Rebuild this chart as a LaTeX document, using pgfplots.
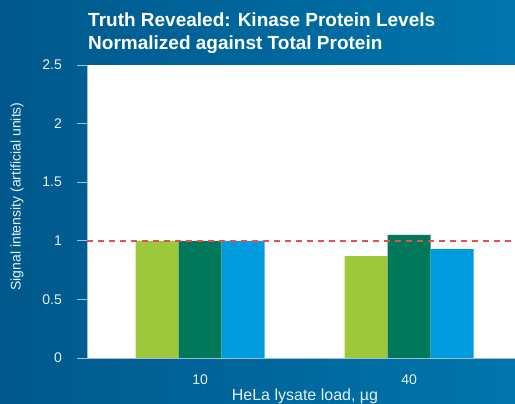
\documentclass[border=0pt]{standalone}
\usepackage{fontspec}
\setmainfont{Liberation Sans}
\usepackage{pgfplots}
\pgfplotsset{compat=1.18}
\definecolor{bgL}{RGB}{0,88,140}
\definecolor{bgR}{RGB}{0,117,172}
\definecolor{axcol}{RGB}{160,192,216}
\definecolor{cgreen}{RGB}{157,200,60}
\definecolor{cdark}{RGB}{0,120,90}
\definecolor{cblue}{RGB}{0,156,222}
\definecolor{cred}{RGB}{232,80,80}
\definecolor{txt}{RGB}{232,240,246}
\begin{document}
\begin{tikzpicture}
\shade[left color=bgL,right color=bgR] (0pt,0pt) rectangle (515pt,404pt);
\useasboundingbox (0pt,0pt) rectangle (515pt,404pt);
\node[anchor=north west, align=left, font=\fontsize{19}{23}\selectfont\bfseries, text=white, inner sep=0pt] at (88pt,391pt) {Truth Revealed: Kinase Protein Levels\\Normalized against Total Protein};
\begin{axis}[
  at={(87pt,46pt)}, anchor=south west,
  scale only axis, width=428pt, height=293pt,
  xmin=-0.541, xmax=1.507, ymin=0, ymax=2.5,
  axis background/.style={fill=white},
  axis x line*=bottom, axis y line*=left,
  axis line style={draw=axcol, line width=0.8pt, -},
  xtick={0,1}, xticklabels={10,40},
  ytick={0,0.5,1,1.5,2,2.5},
  yticklabels={0,0.5,1,1.5,2,2.5},
  x tick style={draw=none},
  y tick style={draw=axcol, line width=0.8pt},
  tick align=outside, major tick length=10pt,
  ticklabel style={font=\fontsize{14}{16}\selectfont, text=txt},
  yticklabel style={anchor=east, inner sep=0pt, xshift=-15pt},
  xticklabel style={anchor=center, yshift=-12pt},
  xlabel={HeLa lysate load, µg},
  ylabel={Signal intensity (artificial units)},
  label style={text=txt},
  xlabel style={font=\fontsize{16}{18}\selectfont, at={(axis description cs:0.5,0)}, anchor=center, yshift=-38pt, xshift=4pt},
  ylabel style={font=\fontsize{14}{16}\selectfont, at={(axis description cs:0,0.5)}, anchor=center, rotate=0, yshift=70pt, xshift=15pt},
  clip=false,
]
\addplot[ybar, bar width=43pt, bar shift=-43pt, fill=cgreen, draw=none] coordinates {(0,1.0) (1,0.87)};
\addplot[ybar, bar width=43pt, bar shift=0pt, fill=cdark, draw=none] coordinates {(0,1.0) (1,1.05)};
\addplot[ybar, bar width=43pt, bar shift=43pt, fill=cblue, draw=none] coordinates {(0,1.0) (1,0.93)};
\addplot[sharp plot, no marks, draw=cred, line width=1.5pt, dash pattern=on 6pt off 5pt] coordinates {(-0.541,1) (1.507,1)};
\end{axis}
\end{tikzpicture}
\end{document}
